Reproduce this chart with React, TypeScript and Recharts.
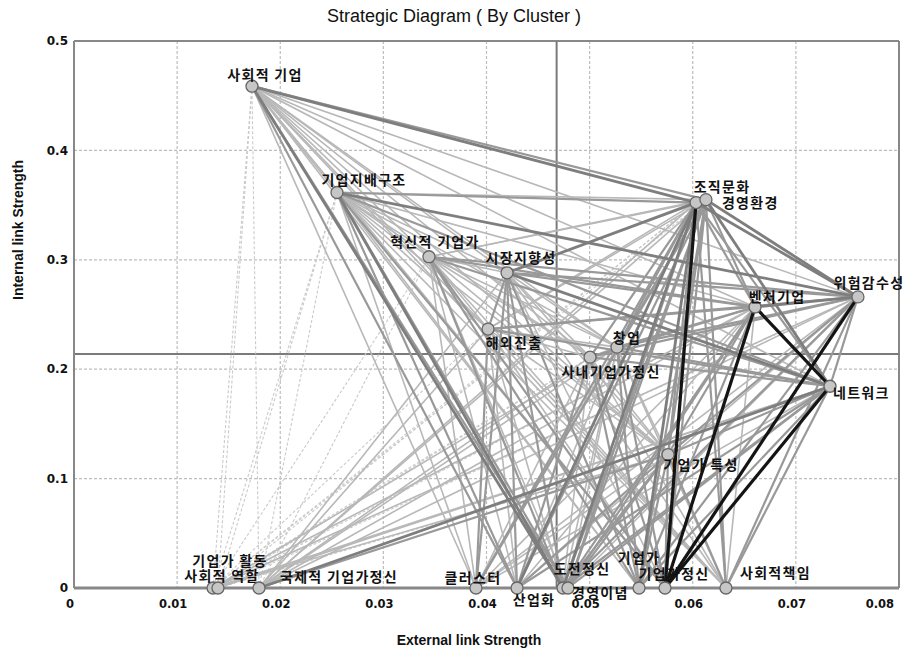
import React from "react";
import { ScatterChart, Scatter, XAxis, YAxis, CartesianGrid, ReferenceLine } from "recharts";

// ---------- data ----------
const nodeIds = ["SE","GG","HG","SJ","HO","CU","SN","JM","GH","WH","VB","NW","GT","GA","SR","IE","CL","SI","DJ","GI","GE","GJ","SC"];
const nodeNames = ["사회적 기업","기업지배구조","혁신적 기업가","시장지향성","해외진출","창업","사내기업가정신","조직문화","경영환경","위험감수성","벤처기업","네트워크","기업가 특성","기업가 활동","사회적 역할","국제적 기업가정신","클러스터","산업화","도전정신","경영이념","기업가","기업가정신","사회적책임"];
const externalStrength = [0.01726,0.0255,0.03442,0.04199,0.04015,0.05265,0.05004,0.06032,0.06128,0.07602,0.06604,0.07331,0.0576,0.01348,0.01396,0.01794,0.03898,0.04296,0.04742,0.0479,0.05479,0.05731,0.06322];
const internalStrength = [0.4587,0.3615,0.3028,0.2881,0.2367,0.2202,0.211,0.3523,0.355,0.2661,0.2569,0.1844,0.122,0,0,0,0,0,0,0,0,0,0];

const meanExternal = 0.0468;
const meanInternal = 0.2138;

const xTicks = [0,0.01,0.02,0.03,0.04,0.05,0.06,0.07,0.08];
const yTicks = [0,0.1,0.2,0.3,0.4,0.5];

// edges: "source-target:strength"  (k = strongest, d, m, l, x = weakest)
const edgeList = [
  "SE-JM:d","SE-GH:m","SE-DJ:d","SE-GI:m","SE-SI:m","SE-WH:l","SE-VB:l","SE-NW:l","SE-CU:l","SE-SN:l","SE-GT:l","SE-GE:l","SE-GJ:l","SE-SC:l","SE-CL:l","SE-HO:l","SE-SJ:l","SE-HG:l","SE-GG:l","SE-GA:x","SE-SR:x","SE-IE:x",
  "GG-WH:d","GG-JM:m","GG-GH:l","GG-DJ:d","GG-GJ:m","GG-GI:m","GG-SI:m","GG-NW:m","GG-VB:l","GG-CU:l","GG-SN:l","GG-GT:l","GG-CL:l","GG-GE:l","GG-SC:l","GG-HO:l","GG-SJ:l","GG-HG:l","GG-IE:x","GG-GA:x","GG-SR:x",
  "HG-JM:l","HG-GH:l","HG-WH:m","HG-VB:m","HG-NW:m","HG-GJ:m","HG-GE:m","HG-SC:l","HG-DJ:m","HG-GI:l","HG-SI:l","HG-CL:l","HG-CU:l","HG-SN:l","HG-GT:l","HG-HO:l","HG-SJ:l","HG-IE:x","HG-GA:x",
  "SJ-JM:d","SJ-GH:l","SJ-WH:m","SJ-VB:m","SJ-NW:d","SJ-HO:m","SJ-CL:m","SJ-SI:m","SJ-DJ:m","SJ-GE:m","SJ-GJ:l","SJ-SC:l","SJ-GT:l","SJ-CU:l","SJ-SN:l","SJ-IE:l",
  "HO-CL:m","HO-VB:m","HO-WH:m","HO-NW:m","HO-JM:l","HO-GH:l","HO-CU:l","HO-SN:l","HO-GT:l","HO-SI:l","HO-DJ:l","HO-GJ:l","HO-SC:l","HO-IE:l","HO-GA:x",
  "CU-VB:m","CU-WH:m","CU-NW:m","CU-JM:m","CU-GH:m","CU-GE:m","CU-GJ:m","CU-SC:l","CU-DJ:l","CU-GI:l","CU-SI:l","CU-CL:l","CU-GT:l","CU-SN:l","CU-IE:l","CU-GA:l",
  "SN-VB:m","SN-WH:m","SN-NW:m","SN-JM:m","SN-GJ:m","SN-GE:m","SN-DJ:l","SN-SI:m","SN-CL:l","SN-GT:l","SN-SC:l","SN-IE:l","SN-GA:x","SN-SR:x",
  "JM-GJ:k","JM-GH:m","JM-VB:m","JM-WH:d","JM-NW:m","JM-GT:m","JM-GE:d","JM-SC:m","JM-DJ:d","JM-GI:m","JM-SI:d","JM-CL:m","JM-IE:l","JM-GA:x","JM-SR:x",
  "GH-WH:d","GH-NW:d","GH-VB:m","GH-GJ:m","GH-SC:m","GH-GE:m","GH-GT:m","GH-DJ:m","GH-GI:m","GH-SI:m","GH-CL:m","GH-IE:l","GH-GA:x",
  "WH-VB:d","WH-NW:m","WH-GJ:k","WH-SC:m","WH-GE:m","WH-GT:m","WH-DJ:m","WH-GI:l","WH-SI:l","WH-CL:l","WH-IE:l","WH-GA:l","WH-SR:x",
  "VB-NW:k","VB-GJ:k","VB-SC:l","VB-GE:m","VB-GT:m","VB-DJ:m","VB-GI:m","VB-SI:l","VB-CL:l","VB-IE:l","VB-GA:l","VB-SR:x",
  "NW-GJ:k","NW-SC:m","NW-GE:m","NW-GT:m","NW-DJ:m","NW-GI:m","NW-SI:m","NW-CL:l","NW-IE:d","NW-GA:l","NW-SR:l",
  "GT-GJ:m","GT-GE:m","GT-SC:m","GT-DJ:m","GT-GI:m","GT-SI:m","GT-CL:l","GT-IE:m","GT-GA:l","GT-SR:x",
];

// ---------- styles ----------
const edgeStyle: Record<string, { stroke: string; width: number; dash?: string; order: number }> = {
  x: { stroke: "#cacaca", width: 1.1, dash: "3 2", order: 0 },
  l: { stroke: "#b8b8b8", width: 1.6, order: 1 },
  m: { stroke: "#999999", width: 2.2, order: 2 },
  d: { stroke: "#7e7e7e", width: 2.8, order: 3 },
  k: { stroke: "#141414", width: 3.2, order: 4 },
};

// label placement relative to node centre: [dx, dy(baseline), anchor]
const labelPlacement: Record<string, [number, number, "middle" | "start"]> = {
  SE: [13, -6, "middle"], GG: [27, -8, "middle"], HG: [6, -10, "middle"], SJ: [14, -10, "middle"],
  HO: [26, 19, "middle"], CU: [10, -4, "middle"], SN: [21, 20, "middle"], JM: [26, -11, "middle"],
  GH: [16, 8, "start"], WH: [11, -9, "middle"], VB: [22, -5, "middle"], NW: [3, 12, "start"],
  GT: [33, 15, "middle"], GA: [17, -22, "middle"], SR: [4, -7, "middle"], IE: [21, -6, "start"],
  CL: [-3, -5, "middle"], SI: [17, 17, "middle"], DJ: [19, -14, "middle"], GI: [4, 10, "start"],
  GE: [0, -25, "middle"], GJ: [9, -9, "middle"], SC: [14, -10, "start"],
};

const nodes = nodeIds.map((id, i) => ({ id, name: nodeNames[i], x: externalStrength[i], y: internalStrength[i] }));
const idx: Record<string, number> = {};
nodeIds.forEach((id, i) => (idx[id] = i));

const edges = edgeList
  .map((s) => {
    const [pair, w] = s.split(":");
    const [a, b] = pair.split("-");
    return { a: idx[a], b: idx[b], w };
  })
  .sort((p, q) => edgeStyle[p.w].order - edgeStyle[q.w].order);

const labelFont = "'Noto Sans CJK KR', sans-serif";

const NodeShape = (props: any) => {
  const { cx, cy, payload } = props;
  if (cx == null || cy == null) return null;
  const [dx, dy, anchor] = labelPlacement[payload.id];
  return (
    <g>
      <circle cx={cx} cy={cy} r={6} fill="#c6c6c6" stroke="#666" strokeWidth={1.3} />
      <text
        x={cx + dx}
        y={cy + dy}
        textAnchor={anchor}
        fontFamily={labelFont}
        fontWeight={700}
        fontSize={14}
        letterSpacing={1.3}
        fill="#111"
      >
        {payload.name}
      </text>
    </g>
  );
};

const tickFont = { fontFamily: "'DejaVu Sans', sans-serif", fontWeight: 700, fontSize: 12, fill: "#111" };

const XTick = (props: any) => {
  const { x, y, payload } = props;
  const v = payload.value as number;
  const last = v === xTicks[xTicks.length - 1];
  return (
    <text
      x={last ? x + 4 : x - 4}
      y={y}
      dy="0.71em"
      textAnchor={last ? "end" : "middle"}
      {...tickFont}
      fontSize={11.5}
    >
      {v === 0 ? "0" : v.toFixed(2)}
    </text>
  );
};

export default function App() {
  return (
    <div style={{ position: "relative", width: 896, height: 643 }}>
      <div
        style={{
          position: "absolute", left: 0, top: -1, width: 892, textAlign: "center",
          fontFamily: "'Liberation Sans', Arial, sans-serif", fontSize: 18, lineHeight: "18px", color: "#111",
        }}
      >
        Strategic Diagram ( By Cluster )
      </div>
      <div
        style={{
          position: "absolute", left: 0, top: 624, width: 922, lineHeight: "16px",
          textAlign: "center", fontFamily: "'Liberation Sans', Arial, sans-serif", fontWeight: 700, fontSize: 14, color: "#111",
        }}
      >
        External link Strength
      </div>
      <div style={{ position: "absolute", left: 10, top: 222, width: 0, height: 0 }}>
        <div
          style={{
            position: "absolute", left: 0, top: 0, transform: "translate(-50%, -50%) rotate(-90deg)",
            whiteSpace: "nowrap", fontFamily: "'Liberation Sans', Arial, sans-serif", fontWeight: 700, fontSize: 14, color: "#111",
          }}
        >
          Internal link Strength
        </div>
      </div>
      <div style={{ position: "absolute", left: 0, top: 0 }}>
        <ScatterChart
          width={896}
          height={643}
          margin={{ top: 33, right: 5, bottom: 33, left: 16 }}
          style={{ overflow: "visible" }}
        >
          <CartesianGrid stroke="#bdbdbd" strokeDasharray="3 2" strokeWidth={1.2} />
          <XAxis
            type="number"
            dataKey="x"
            domain={[0, 0.08]}
            ticks={xTicks}
            tick={<XTick />}
            tickLine={false}
            tickSize={0}
            tickMargin={12}
            height={30}
            axisLine={{ stroke: "#888", strokeWidth: 3 }}
          />
          <YAxis
            type="number"
            dataKey="y"
            domain={[0, 0.5]}
            ticks={yTicks}
            tickFormatter={(v: number) => (v === 0 ? "0" : v.toFixed(1))}
            tick={tickFont}
            tickLine={false}
            tickSize={0}
            tickMargin={6}
            width={50}
            axisLine={{ stroke: "#888", strokeWidth: 2 }}
          />
          <ReferenceLine y={0.5} stroke="#888" strokeWidth={2} />
          <ReferenceLine x={0.08} stroke="#888" strokeWidth={2} />
          <ReferenceLine x={meanExternal} stroke="#7a7a7a" strokeWidth={2} />
          <ReferenceLine y={meanInternal} stroke="#7a7a7a" strokeWidth={2} />
          {edges.map((e, i) => {
            const st = edgeStyle[e.w];
            return (
              <ReferenceLine
                key={"e" + i}
                segment={[
                  { x: externalStrength[e.a], y: internalStrength[e.a] },
                  { x: externalStrength[e.b], y: internalStrength[e.b] },
                ]}
                stroke={st.stroke}
                strokeWidth={st.width}
                strokeDasharray={st.dash}
                ifOverflow="visible"
              />
            );
          })}
          <Scatter data={nodes} shape={NodeShape} isAnimationActive={false} />
        </ScatterChart>
      </div>
    </div>
  );
}
